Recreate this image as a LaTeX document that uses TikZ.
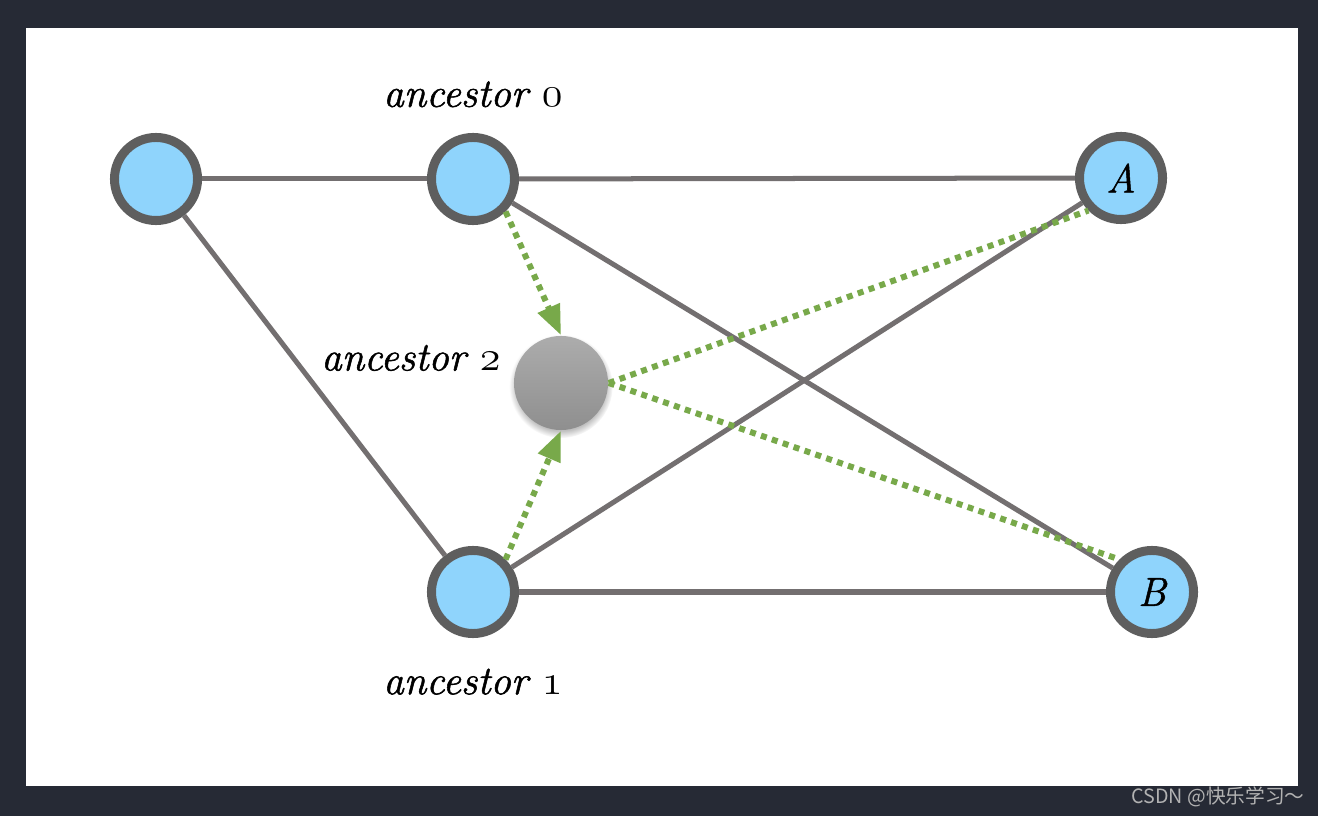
\documentclass[tikz,border=0pt]{standalone}
\usepackage{fontspec}
\newfontfamily\cjkfont{Noto Sans CJK SC}
\newfontfamily\lblfont{Latin Modern Roman}[FakeBold=1.3]
\usetikzlibrary{positioning, arrows.meta, shadows}

\definecolor{nodeblue}{RGB}{143,212,252}
\definecolor{ringgray}{RGB}{94,94,94}
\definecolor{edgegray}{RGB}{115,111,112}
\definecolor{pathgreen}{RGB}{120,169,74}
\definecolor{framedark}{RGB}{38,42,53}
\definecolor{markgray}{RGB}{178,178,178}

\begin{document}
\begin{tikzpicture}[
    x=0.01cm, y=-0.01cm,
    >={Triangle[length=0.3cm, width=0.23cm]},
    % Node Styles
    vertex/.style={circle, draw=ringgray, line width=0.09cm, fill=nodeblue, minimum size=0.83cm, inner sep=0pt, font=\lblfont\fontsize{11.5}{13}\selectfont\itshape},
    ghost/.style={circle, minimum size=0.94cm, inner sep=0pt, top color=gray!65, bottom color=gray!88,
        circular drop shadow={shadow xshift=0pt, shadow yshift=-0.03cm, shadow scale=1.1, opacity=0.5}},
    lbl/.style={inner sep=0pt, font=\lblfont\fontsize{11.6}{14}\selectfont\itshape},
    % Edge Styles
    edge/.style={draw=edgegray, line width=0.05cm},
    hop/.style={draw=pathgreen, line width=0.06cm, dash pattern=on 0.06cm off 0.055cm}
]

% --- Frame ---
\fill[framedark] (0,0) rectangle (1318,816);
\fill[white] (26,28) rectangle (1298,786);

% --- 1. Graph Nodes ---
\node[vertex] (origin) at (156,179) {};
\node[vertex] (anc0) at (473,179) {};
\node[vertex] (anc1) at (473,592) {};
\node[vertex] (nodeA) at (1121,178) {A};
\node[vertex] (nodeB) at (1152,592) {B};

% --- 2. Common Ancestor ---
\node[ghost] (anc2) at (561,383) {};

% --- 3. Labels ---
\node[lbl, above=0.25cm of anc0] (lbl0) {ancestor $\mathnormal{0}$};
\node[lbl, below=0.3cm of anc1] (lbl1) {ancestor $\mathnormal{1}$};
\node[lbl, left=0.12cm of anc2, yshift=0.25cm] (lbl2) {ancestor $\mathnormal{2}$};

% --- Edges ---
\draw[edge] (origin) -- (anc0);
\draw[edge] (origin) -- (anc1);
\draw[edge] (anc0) -- (nodeA);
\draw[edge] (anc0) -- (nodeB);
\draw[edge] (anc1) -- (nodeA);
\draw[edge] (anc1) -- (nodeB);

% Green paths
\draw[hop, ->] (anc0.south east) -- (anc2.north);
\draw[hop, ->] (anc1.north east) -- (anc2.south);
\draw[hop] (anc2.east) -- (nodeA.south west);
\draw[hop] (anc2.east) -- (nodeB.north west);

% --- Watermark ---
\node[text=markgray, font=\cjkfont\fontsize{5.6}{7}\selectfont] (mark) at (1218,797) {CSDN @快乐学习～};

\end{tikzpicture}
\end{document}
